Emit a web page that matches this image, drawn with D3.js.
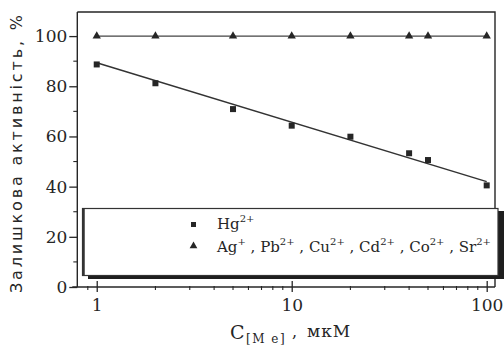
<!DOCTYPE html>
<html>
<head>
<meta charset="utf-8">
<script src="https://cdn.jsdelivr.net/npm/d3@7"></script>
<style>
  html, body { margin: 0; padding: 0; background: #fff; }
  svg { display: block; }
</style>
</head>
<body>
<div id="chart"></div>
<script>
// Data
const concentrations = [1, 2, 5, 10, 20, 40, 50, 100];           // мкМ
const hgActivity = [88.7, 81.2, 70.9, 64.3, 59.9, 53.3, 50.6, 40.5];
const otherActivity = [100, 100, 100, 100, 100, 100, 100, 100];
const hgFitX = [1, 100];
const hgFitY = [89.4, 42.0];
const xTickValues = [1, 10, 100];
const xTickLabels = ['1', '10', '100'];
const yTickValues = [0, 20, 40, 60, 80, 100];
const yMinorValues = [10, 30, 50, 70, 90];
const xMinorValues = [0.9, 2, 3, 4, 5, 6, 7, 8, 9, 20, 30, 40, 50, 60, 70, 80, 90];

const width = 504, height = 348;
const ink = '#262626';

const svg = d3.select('#chart')
  .append('svg')
  .attr('width', width)
  .attr('height', height);

// Scales
const x = d3.scaleLog()
  .domain([0.795, 110.3])
  .range([77.3, 495]);

const y = d3.scaleLinear()
  .domain([0, 110])
  .range([287, 11]);

// Frame (top and right)
svg.append('path')
  .attr('d', `M${x.range()[0]},${y(110) + 1}H${x.range()[1]}V${y(0)}`)
  .attr('fill', 'none')
  .attr('stroke', ink)
  .attr('stroke-width', 1.4);

// Y axis
const yAxis = svg.append('g')
  .attr('transform', `translate(${x.range()[0]},0)`)
  .call(d3.axisLeft(y).tickValues(yTickValues).tickSize(8).tickPadding(2).tickSizeOuter(0));
yAxis.select('.domain').attr('stroke', ink).attr('stroke-width', 1.4)
  .attr('d', `M0,${y(110) + 1}V${y(0)}`);
yAxis.selectAll('.tick line').attr('stroke', ink).attr('stroke-width', 1.3);
yAxis.selectAll('.tick text')
  .style('font-family', '"DejaVu Serif", serif')
  .style('font-size', '17px')
  .attr('fill', ink);

svg.append('g')
  .selectAll('line')
  .data(yMinorValues)
  .join('line')
  .attr('x1', x.range()[0] - 4)
  .attr('x2', x.range()[0])
  .attr('y1', d => y(d))
  .attr('y2', d => y(d))
  .attr('stroke', ink)
  .attr('stroke-width', 1.1);

// X axis
const xAxis = svg.append('g')
  .attr('transform', `translate(0,${y(0)})`)
  .call(d3.axisBottom(x).tickValues(xTickValues).tickFormat((d, i) => xTickLabels[i])
    .tickSize(5).tickPadding(7).tickSizeOuter(0));
xAxis.select('.domain').attr('stroke', ink).attr('stroke-width', 1.4)
  .attr('d', `M${x.range()[0] - 5},0H${x.range()[1]}`);
xAxis.selectAll('.tick line').attr('stroke', ink).attr('stroke-width', 1.3).attr('y1', -6);
xAxis.selectAll('.tick text')
  .style('font-family', '"DejaVu Serif", serif')
  .style('font-size', '17px')
  .attr('fill', ink);

svg.append('g')
  .selectAll('line')
  .data(xMinorValues)
  .join('line')
  .attr('x1', d => x(d))
  .attr('x2', d => x(d))
  .attr('y1', y(0) - 1)
  .attr('y2', y(0) + 3)
  .attr('stroke', ink)
  .attr('stroke-width', 1.1);

// Other metals line at 100 %
const otherData = concentrations.map((c, i) => ({ c, v: otherActivity[i] }));
svg.append('path')
  .datum(otherData)
  .attr('fill', 'none')
  .attr('stroke', '#444')
  .attr('stroke-width', 1.2)
  .attr('d', d3.line().x(d => x(d.c)).y(d => y(d.v)));

svg.append('g')
  .selectAll('path')
  .data(otherData)
  .join('path')
  .attr('transform', d => `translate(${x(d.c)},${y(d.v)})`)
  .attr('d', d3.symbol(d3.symbolTriangle, 30))
  .attr('fill', ink);

// Hg fit line
const fitData = hgFitX.map((c, i) => ({ c, v: hgFitY[i] }));
svg.append('path')
  .datum(fitData)
  .attr('fill', 'none')
  .attr('stroke', '#333')
  .attr('stroke-width', 1.5)
  .attr('d', d3.line().x(d => x(d.c)).y(d => y(d.v)));

const hgData = concentrations.map((c, i) => ({ c, v: hgActivity[i] }));
svg.append('g')
  .selectAll('rect')
  .data(hgData)
  .join('rect')
  .attr('x', d => x(d.c) - 3)
  .attr('y', d => y(d.v) - 3)
  .attr('width', 6)
  .attr('height', 6)
  .attr('fill', ink);

// Legend with drop shadow
const legend = svg.append('g');
legend.append('rect')
  .attr('x', 88).attr('y', 211)
  .attr('width', 420).attr('height', 68)
  .attr('fill', '#1e1e1e');
legend.append('rect')
  .attr('x', 82.5).attr('y', 208.5)
  .attr('width', 415.5).attr('height', 67)
  .attr('fill', '#fff')
  .attr('stroke', '#333')
  .attr('stroke-width', 1.2);
legend.append('line')
  .attr('x1', 83.5).attr('x2', 83.5)
  .attr('y1', 208).attr('y2', 276)
  .attr('stroke', '#333')
  .attr('stroke-width', 2.5);

legend.append('rect')
  .attr('x', 191).attr('y', 222)
  .attr('width', 5).attr('height', 5)
  .attr('fill', ink);
legend.append('path')
  .attr('transform', 'translate(193.5,246)')
  .attr('d', d3.symbol(d3.symbolTriangle, 26))
  .attr('fill', ink);

const legendFont = '"DejaVu Serif", serif';
// parts: plain strings, or {sup: '...'} for superscripts
function ionText(g, xPos, yPos, parts) {
  const t = g.append('text')
    .attr('x', xPos).attr('y', yPos)
    .style('font-family', legendFont)
    .style('font-size', '15px')
    .attr('fill', ink);
  let raised = false;
  parts.forEach(p => {
    if (typeof p === 'object') {
      t.append('tspan').attr('dy', raised ? 0 : -7).style('font-size', '10px').text(p.sup);
      raised = true;
    } else {
      t.append('tspan').attr('dy', raised ? 7 : 0).text(p);
      raised = false;
    }
  });
  return t;
}

ionText(legend, 217, 229, ['Hg', { sup: '2+' }]);
ionText(legend, 217, 252, [
  'Ag', { sup: '+' }, ' , Pb', { sup: '2+' },
  ' , Cu', { sup: '2+' }, ' , Cd', { sup: '2+' },
  ' , Co', { sup: '2+' }, ' , Sr', { sup: '2+' }
]);

// Axis titles
svg.append('text')
  .attr('transform', 'translate(22,154) rotate(-90)')
  .attr('text-anchor', 'middle')
  .attr('textLength', 278)
  .attr('lengthAdjust', 'spacing')
  .style('font-family', '"DejaVu Sans", sans-serif')
  .style('font-size', '16px')
  .attr('fill', ink)
  .text('Залишкова активність, %');

const xt = svg.append('text')
  .attr('x', 230).attr('y', 339)
  .style('font-family', '"DejaVu Serif", serif')
  .attr('fill', ink);
xt.append('tspan').style('font-size', '19px').text('C');
xt.append('tspan').attr('x', 246).attr('dy', 4).style('font-size', '12px')
  .style('letter-spacing', '1.5px').text('[M e]');
xt.append('tspan').attr('x', 292).attr('dy', -6).style('font-size', '16px').text(',');
xt.append('tspan').attr('x', 307).style('font-size', '17px')
  .style('letter-spacing', '1px').text('мкМ');
</script>
</body>
</html>
